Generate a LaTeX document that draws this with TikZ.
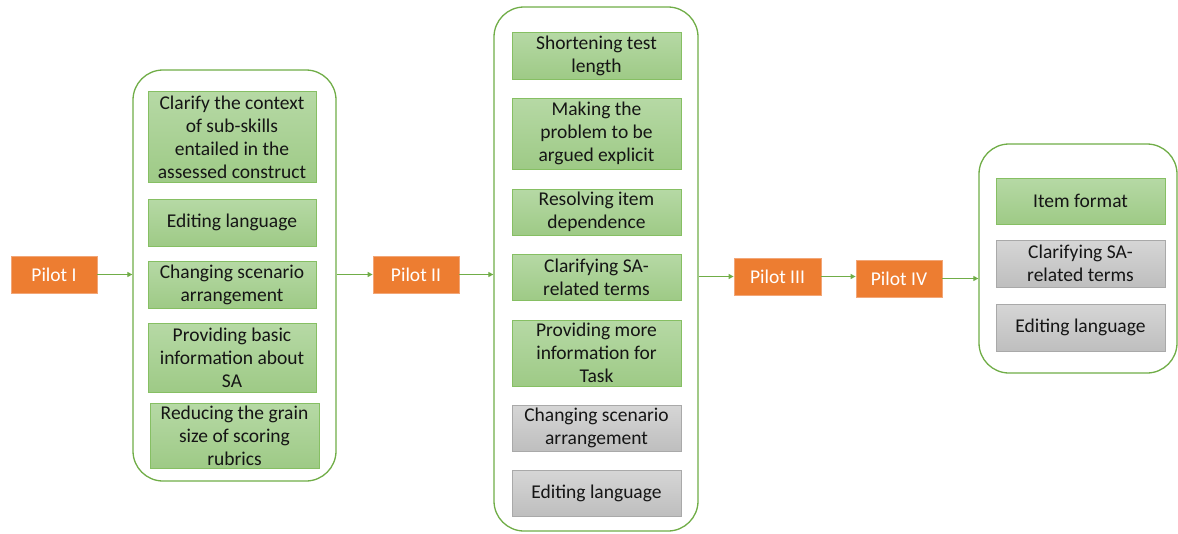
\documentclass[tikz,border=0pt]{standalone}
\usepackage{fontspec}
\setmainfont{Carlito}
\usetikzlibrary{arrows.meta}

\definecolor{pilotfill}{HTML}{ED7D31}
\definecolor{pilotedge}{HTML}{F2A677}
\definecolor{leafgreen}{HTML}{70AD47}
\definecolor{greentop}{HTML}{B6D9A5}
\definecolor{greenbot}{HTML}{9ECA86}
\definecolor{greenedge}{HTML}{86BF63}
\definecolor{graytop}{HTML}{D6D6D6}
\definecolor{graybot}{HTML}{BEBEBE}
\definecolor{grayedge}{HTML}{A9A9A9}
\definecolor{inktext}{HTML}{151515}

\tikzset{
  boxtext/.style={font=\fontsize{19.5}{23}\selectfont, align=center, inner sep=0pt},
  pilot/.style={boxtext, rectangle, fill=pilotfill, draw=pilotedge, line width=0.8pt,
    text=white, minimum width=86pt, minimum height=37pt},
  group/.style={rectangle, rounded corners=30pt, draw=leafgreen, line width=1.3pt, fill=white},
  greenitem/.style={boxtext, rectangle, top color=greentop, bottom color=greenbot,
    draw=greenedge, line width=0.9pt, text=inktext, minimum width=169pt},
  grayitem/.style={boxtext, rectangle, top color=graytop, bottom color=graybot,
    draw=grayedge, line width=0.9pt, text=inktext, minimum width=169pt},
  flow/.style={draw=leafgreen, line width=1.3pt, -{Triangle[length=5pt,width=5pt]}}
}

\begin{document}
\begin{tikzpicture}[x=1pt, y=-1pt]
  \useasboundingbox (0,0) rectangle (1178,533);

  % stage containers
  \node[group, minimum width=203pt, minimum height=411pt] (c1) at (234.5,275.5) {};
  \node[group, minimum width=204pt, minimum height=524pt] (c2) at (596,269) {};
  \node[group, minimum width=198pt, minimum height=229pt] (c3) at (1078,258.5) {};

  % pilot stages
  \node[pilot] (p1) at (54,274.5) {Pilot I};
  \node[pilot] (p2) at (416,274.5) {Pilot II};
  \node[pilot, minimum width=87pt] (p3) at (777.5,276.5) {Pilot III};
  \node[pilot] (p4) at (899,278.5) {Pilot IV};

  % revisions after Pilot I
  \node[greenitem, minimum width=168pt, minimum height=91pt] (a1) at (232,137)
    {Clarify the context\\of sub-skills\\entailed in the\\assessed construct};
  \node[greenitem, minimum width=168pt, minimum height=47pt] (a2) at (232,222.5) {Editing language};
  \node[greenitem, minimum width=168pt, minimum height=47pt] (a3) at (232,284.5)
    {Changing scenario\\arrangement};
  \node[greenitem, minimum width=168pt, minimum height=69pt] (a4) at (232,357.5)
    {Providing basic\\information about\\SA};
  \node[greenitem, minimum height=65pt] (a5) at (234.5,435.5)
    {Reducing the grain\\size of scoring\\rubrics};

  % revisions after Pilot II
  \node[greenitem, minimum height=47pt] (b1) at (596.5,55.5) {Shortening test\\length};
  \node[greenitem, minimum height=71pt] (b2) at (596.5,133.5)
    {Making the\\problem to be\\argued explicit};
  \node[greenitem, minimum height=46pt] (b3) at (596.5,212) {Resolving item\\dependence};
  \node[greenitem, minimum height=46pt] (b4) at (596.5,277) {Clarifying SA-\\related terms};
  \node[greenitem, minimum height=66pt] (b5) at (596.5,353)
    {Providing more\\information for\\Task};
  \node[grayitem, minimum height=46pt] (b6) at (596.5,428) {Changing scenario\\arrangement};
  \node[grayitem, minimum height=46pt] (b7) at (596.5,493) {Editing language};

  % revisions after Pilot IV
  \node[greenitem, minimum height=46pt] (d1) at (1080.5,201) {Item format};
  \node[grayitem, minimum height=47pt] (d2) at (1080.5,263.5) {Clarifying SA-\\related terms};
  \node[grayitem, minimum height=47pt] (d3) at (1080.5,327.5) {Editing language};

  % flow between stages
  \draw[flow] (p1.east) -- (p1.east -| c1.west);
  \draw[flow] (c1.east |- p2.west) -- (p2.west);
  \draw[flow] (p2.east) -- (p2.east -| c2.west);
  \draw[flow] (c2.east |- p3.west) -- (p3.west);
  \draw[flow] (p3.east) -- (p3.east -| p4.west);
  \draw[flow] (p4.east) -- (p4.east -| c3.west);
\end{tikzpicture}
\end{document}
